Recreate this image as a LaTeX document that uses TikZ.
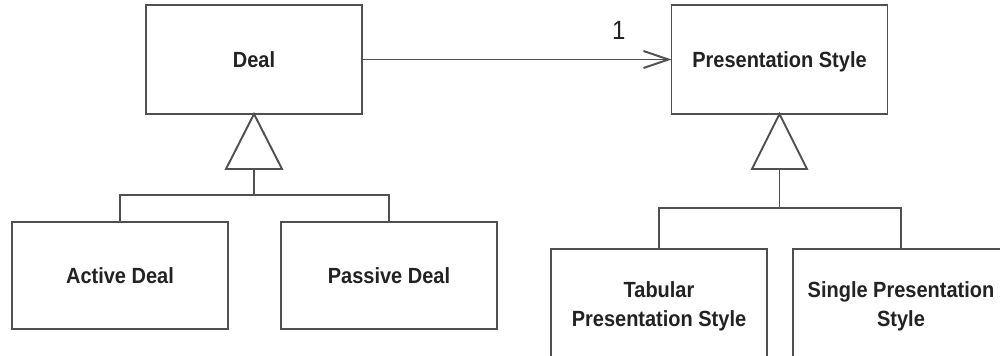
\documentclass[tikz,border=0pt]{standalone}
\usepackage{fontspec}
\usepackage{tikz}
\usetikzlibrary{arrows.meta,positioning,calc}
\newfontfamily\umlfont{Liberation Sans}[FakeStretch=0.91]
\definecolor{umlInk}  {HTML}{222222}
\definecolor{umlLine} {HTML}{505050}

\begin{document}
\begin{tikzpicture}[x=0.02cm,y=-0.02cm,
    umlclass/.style={draw=umlLine,line width=1.1pt,fill=white,inner sep=0,outer sep=0,
      minimum width=4.32cm,minimum height=2.14cm,align=center,text=umlInk,
      font=\umlfont\bfseries\fontsize{12.5}{16.5}\selectfont},
    umlline/.style={draw=umlLine,line width=1.1pt}]
    \useasboundingbox (0,0) rectangle (1000,355);
    \clip (0,0) rectangle (1000,355);
    % parents
    \node[umlclass,minimum height=2.18cm] (deal) at (254,59.5) {Deal};
    \node[umlclass,minimum height=2.18cm,text depth=0pt] (pstyle) at (779.5,59.5) {Presentation Style};
    % subclasses
    \node[umlclass] (active)  at (120,275.5) {Active Deal};
    \node[umlclass] (passive) at (389,275.5) {Passive Deal};
    \node[umlclass,minimum height=2.3cm,anchor=north] (tabular) at (659,249) {Tabular\\Presentation Style};
    \node[umlclass,minimum height=2.3cm,anchor=north] (single)  at (901,249) {Single Presentation\\Style};

    % association
    \draw[umlline,-{Straight Barb[length=0.5cm,width=0.34cm,line width=1.1pt]}] (deal) -- (pstyle)
      node[pos=0.83,above=0.38cm,inner sep=0,text=umlInk,
           font=\umlfont\fontsize{15}{18}\selectfont] (mult) {1};

    % generalisation: Deal
    \draw[umlline] (deal.south) -- ++(-28,55) -- ++(56,0) -- cycle;
    \coordinate (dealgen) at ($(deal.south)+(0,55)$);
    \coordinate (dealbar) at ($(dealgen)+(0,26)$);
    \draw[umlline] (dealgen) -- (dealbar);
    \draw[umlline] (active.north) |- (dealbar) -| (passive.north);

    % generalisation: Presentation Style
    \draw[umlline] (pstyle.south) -- ++(-27.5,55) -- ++(55,0) -- cycle;
    \coordinate (psgen) at ($(pstyle.south)+(0,55)$);
    \coordinate (psbar) at ($(psgen)+(0,39)$);
    \draw[umlline] (psgen) -- (psbar);
    \draw[umlline] (tabular.north) |- (psbar) -| (single.north);
  \end{tikzpicture}
\end{document}
